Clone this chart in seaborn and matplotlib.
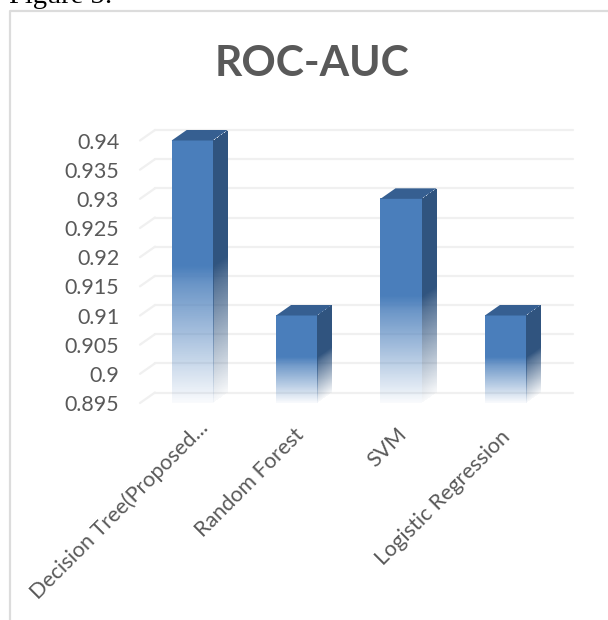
import numpy as np
import matplotlib
matplotlib.use("Agg")
import matplotlib.pyplot as plt
from matplotlib.colors import to_rgb
from matplotlib.lines import Line2D
from matplotlib.patches import Polygon
from matplotlib.transforms import ScaledTranslation
import seaborn as sns

# ROC-AUC score per model
models = ["Decision Tree(Proposed...", "Random Forest", "SVM", "Logistic Regression"]
roc_auc = [0.94, 0.91, 0.93, 0.91]
y_ticks = [0.895, 0.9, 0.905, 0.91, 0.915, 0.92, 0.925, 0.93, 0.935, 0.94]
y_labels = ["0.895", "0.9", "0.905", "0.91", "0.915", "0.92", "0.925", "0.93", "0.935", "0.94"]

W, H = 608, 620
FRONT, SIDE, TOP = "#4a7ebb", "#30547f", "#365f91"
GRID, TEXT = "#f0f0f0", "#595959"

sns.set_style("white")
plt.rcParams["font.family"] = ["Lato", "DejaVu Sans"]

fig = plt.figure(figsize=(W / 100, H / 100), dpi=100, facecolor="white")
ax = fig.add_axes([140 / W, 1 - 403 / H, 417.6 / W, 262.5 / H])
ax.patch.set_alpha(0)

positions = np.arange(len(models))
sns.barplot(x=positions, y=roc_auc, native_scale=True, color=FRONT, width=0.393,
            saturation=1, ax=ax, zorder=3)
sns.despine(ax=ax, left=True, bottom=True, top=True, right=True)

# Oblique offset of the chart's back wall, in data units
depth_x = 15 / 104.4
depth_y = 10.5 / (262.5 / (y_ticks[-1] - y_ticks[0]))


def fade(fraction):
    """Opacity by relative bar height: solid above mid-height, fading out below it."""
    return np.interp(fraction, [0, 0.45, 0.52, 1], [0.03, 0.82, 1, 1])


# Floor-to-wall segments and wall gridlines
for tick in y_ticks:
    ax.plot([-0.5, -0.5 + depth_x], [tick, tick + depth_y], color=GRID, lw=1.6,
            clip_on=False, zorder=1)
    ax.plot([-0.5 + depth_x, 3.5 + depth_x], [tick + depth_y] * 2, color=GRID, lw=1.6,
            clip_on=False, zorder=1)

for bar in list(ax.patches):
    left, right = bar.get_x(), bar.get_x() + bar.get_width()
    top = bar.get_height()
    base = y_ticks[0]
    bar.set_visible(False)

    # Front face
    rows = 400
    front = np.zeros((rows, 1, 4))
    front[..., :3] = to_rgb(FRONT)
    front[:, 0, 3] = fade((np.arange(rows) + 0.5) / rows)
    ax.imshow(front, extent=[left, right, base, top], origin="lower", aspect="auto",
              interpolation="nearest", zorder=3, clip_on=False)

    # Side face: fade and outline both follow the shear towards the back wall
    cols = 45
    grid_x = (np.arange(cols)[None, :] + 0.5) / cols
    grid_y = np.linspace(base, top + depth_y, rows)[:, None]
    height_fraction = (grid_y - grid_x * depth_y - base) / (top - base)
    side = np.zeros((rows, cols, 4))
    side[..., :3] = to_rgb(SIDE)
    side[..., 3] = np.where((height_fraction >= 0) & (height_fraction <= 1),
                            fade(height_fraction), 0)
    side_image = ax.imshow(side, extent=[right, right + depth_x, base, top + depth_y],
                           origin="lower", aspect="auto", interpolation="nearest",
                           zorder=3)
    side_image.set_clip_box(fig.bbox)

    # Top face
    ax.add_patch(Polygon([(left, top), (right, top), (right + depth_x, top + depth_y),
                          (left + depth_x, top + depth_y)], closed=True,
                         facecolor=TOP, edgecolor="none", clip_on=False, zorder=4))

ax.set_xlim(-0.5, 3.5)
ax.set_ylim(y_ticks[0], y_ticks[-1])
ax.set_yticks(y_ticks, y_labels)
ax.set_xticks(positions, models)
ax.tick_params(axis="y", length=0, pad=15, labelsize=15.4, labelcolor=TEXT)
ax.tick_params(axis="x", length=0, pad=13, labelsize=15.5, labelcolor=TEXT)

# Per-label fine placement of the slanted category names, in pixels
label_shift = [(5, 4), (-3, -4), (-4, -3), (-5, -6)]
for label, (shift_x, shift_y) in zip(ax.get_xticklabels(), label_shift):
    label.set_rotation(45)
    label.set_ha("right")
    label.set_rotation_mode("anchor")
    nudge = ScaledTranslation(shift_x / 100, shift_y / 100, fig.dpi_scale_trans)
    label.set_transform(label.get_transform() + nudge)
ax.set_xlabel("")
ax.set_ylabel("")
ax.grid(False)

fig.text(311.5 / W, 1 - 63.5 / H, "ROC-AUC", ha="center", va="center", fontsize=30.6,
         fontweight="bold", color=TEXT)

# Chart frame, open towards the right and the bottom
fig.add_artist(Line2D([9.5 / W, 9.5 / W, 1], [0, 1 - 10.5 / H, 1 - 10.5 / H],
                      color="#dcdcdc", lw=1.6))

# Caption line running off the upper edge
fig.text(9 / W, 1 - 3 / H, "Figure 5:", ha="left", va="baseline", fontsize=20.5,
         family="Liberation Serif", color="black")

fig.savefig("out.png", dpi=100)
